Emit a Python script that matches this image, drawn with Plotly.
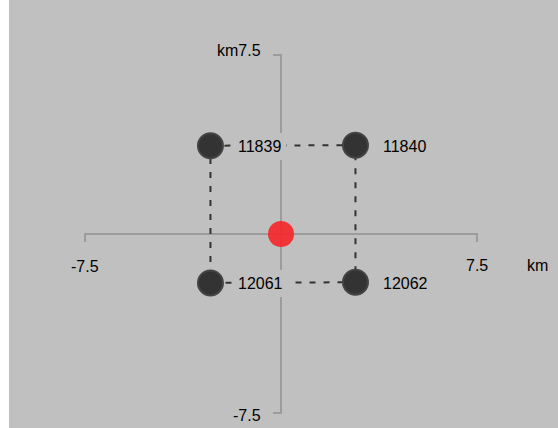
import plotly.graph_objects as go

# Station layout around the origin (distances in km)
station_ids = ["11839", "11840", "12061", "12062"]
east_km = [-2.7, 2.85, -2.7, 2.85]
north_km = [3.7, 3.72, -2.05, -2.02]
# outline order through the station list
outline_order = [0, 1, 3, 2, 0]
origin_east = [0.0]
origin_north = [0.0]
axis_limit = 7.5
unit = "km"

BG = "#c0c0c0"
AXIS = "#9c9c9c"
DARK = "#333333"
FONT = dict(family="Liberation Sans, Arial, sans-serif", size=16, color="#000000")

# plot area mapping (pixels per km)
px_x, px_y = 26.13, 23.87
left_px, plot_w, plot_h = 9, 549, 428
cx, cy = 281, 234
x_range = [-(cx - left_px) / px_x, (558 - cx) / px_x]
y_range = [-(plot_h - cy) / px_y, cy / px_y]

fig = go.Figure()

# cross-shaped axes with end ticks
tick_x = 8 / px_y
tick_y = 8 / px_x
fig.add_trace(go.Scatter(
    x=[-axis_limit, -axis_limit, axis_limit, axis_limit],
    y=[-tick_x, 0, 0, -tick_x],
    mode="lines", line=dict(color=AXIS, width=2), hoverinfo="skip"))
fig.add_trace(go.Scatter(
    x=[-tick_y, 0, 0, -tick_y],
    y=[axis_limit, axis_limit, -axis_limit, -axis_limit],
    mode="lines", line=dict(color=AXIS, width=2), hoverinfo="skip"))

# dashed outline joining the stations
fig.add_trace(go.Scatter(
    x=[east_km[i] for i in outline_order],
    y=[north_km[i] for i in outline_order],
    mode="lines", line=dict(color=DARK, width=2, dash="6px,8px"),
    hoverinfo="skip"))

# stations
fig.add_trace(go.Scatter(
    x=east_km, y=north_km, mode="markers",
    marker=dict(size=25, color=DARK, line=dict(color="#444444", width=2)),
    text=station_ids, hoverinfo="text"))

# origin
fig.add_trace(go.Scatter(
    x=origin_east, y=origin_north, mode="markers",
    marker=dict(size=26, color="rgba(245,40,45,0.92)"),
    hoverinfo="skip"))

annotations = []
for sid, ex, ny in zip(station_ids, east_km, north_km):
    annotations.append(dict(
        x=ex, y=ny, text=sid, showarrow=False, xanchor="left", yanchor="middle",
        xshift=23, yshift=-1, bgcolor=BG, borderpad=5, borderwidth=0, font=FONT))

lim = f"{axis_limit:g}"
annotations += [
    dict(x=-axis_limit, y=0, text="-" + lim, showarrow=False, xanchor="center",
         yanchor="middle", yshift=-32, font=FONT),
    dict(x=axis_limit, y=0, text=lim, showarrow=False, xanchor="center",
         yanchor="middle", yshift=-31, font=FONT),
    dict(x=axis_limit, y=0, text=unit, showarrow=False, xanchor="left",
         yanchor="middle", xshift=48, yshift=-31, font=FONT),
    dict(x=0, y=axis_limit, text=unit + lim, showarrow=False, xanchor="right",
         yanchor="middle", xshift=-18, yshift=4, font=FONT),
    dict(x=0, y=-axis_limit, text="-" + lim, showarrow=False, xanchor="right",
         yanchor="middle", xshift=-18, yshift=-2, font=FONT),
]

fig.update_layout(
    width=558, height=428,
    margin=dict(l=left_px, r=0, t=0, b=0),
    paper_bgcolor="white", plot_bgcolor=BG,
    showlegend=False,
    annotations=annotations,
    xaxis=dict(range=x_range, visible=False, fixedrange=True),
    yaxis=dict(range=y_range, visible=False, fixedrange=True),
)

fig.write_html("out.html", config={"displayModeBar": False})
